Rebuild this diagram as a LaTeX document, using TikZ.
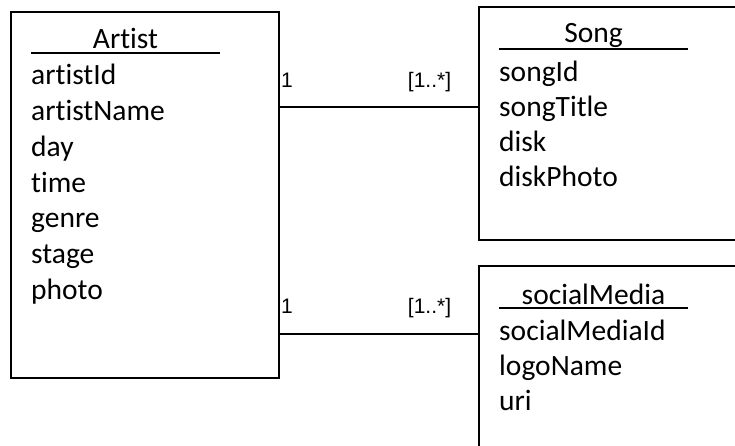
\documentclass[tikz,border=0pt]{standalone}
\usepackage{fontspec}
\setmainfont{Carlito}[Ligatures=NoCommon]
\newfontfamily\multfont{Liberation Sans}

\begin{document}
\begin{tikzpicture}[x=1pt,y=-1pt,
  entity/.style={draw, line width=1.8pt, anchor=north west, inner sep=0pt},
  title/.style={anchor=base, minimum width=189pt, inner sep=0pt, text depth=0pt,
    font=\fontsize{29.5}{35}\selectfont},
  attr/.style={anchor=base west, inner sep=0pt, font=\fontsize{29.5}{35}\selectfont},
  mult/.style={anchor=base, inner sep=0pt, font=\multfont\fontsize{21}{25}\selectfont},
  link/.style={line width=1.8pt}]
\clip (0,0) rectangle (735,446);

% the three classes
\path (10,11) node (artist) [entity, minimum width=268pt, minimum height=366pt] {};
\path (478,6) node (song) [entity, minimum width=280pt, minimum height=233pt] {};
\path (478,265) node (social) [entity, minimum width=280pt, minimum height=250pt] {};

% class names, underlined
\path (125.5,49) node (artistT) [title] {Artist};
\path (593.5,43) node (songT) [title] {Song};
\path (593.5,304) node (socialT) [title] {socialMedia};
\draw [link] ([yshift=-4pt]artistT.south west) -- ([yshift=-4pt]artistT.south east);
\draw [link] ([yshift=-6pt]songT.south west) -- ([yshift=-6pt]songT.south east);
\draw [link] ([yshift=-4pt]socialT.south west) -- ([yshift=-4pt]socialT.south east);

% attributes
\path (31,85) node (a1) [attr] {artistId};
\path (31,120.7) node (a2) [attr] {artistName};
\path (31,156.4) node (a3) [attr] {day};
\path (31,192.1) node (a4) [attr] {time};
\path (31,227.8) node (a5) [attr] {genre};
\path (31,263.5) node (a6) [attr] {stage};
\path (31,299.2) node (a7) [attr] {photo};

\path (499,82) node (s1) [attr] {songId};
\path (499,117) node (s2) [attr] {songTitle};
\path (499,152) node (s3) [attr] {disk};
\path (499,187) node (s4) [attr] {diskPhoto};

\path (499,340) node (m1) [attr] {socialMediaId};
\path (499,375) node (m2) [attr] {logoName};
\path (499,410) node (m3) [attr] {uri};

% associations
\draw [link] (artist.north east) ++(0,96) coordinate (l1) -- (l1 -| song.west);
\draw [link] (artist.north east) ++(0,323) coordinate (l2) -- (l2 -| social.west);

\path (287,88) node (n1a) [mult] {1};
\path (429.5,88) node (n1b) [mult] {[1..*]};
\path (287,313) node (n2a) [mult] {1};
\path (429.5,313) node (n2b) [mult] {[1..*]};

\end{tikzpicture}
\end{document}
